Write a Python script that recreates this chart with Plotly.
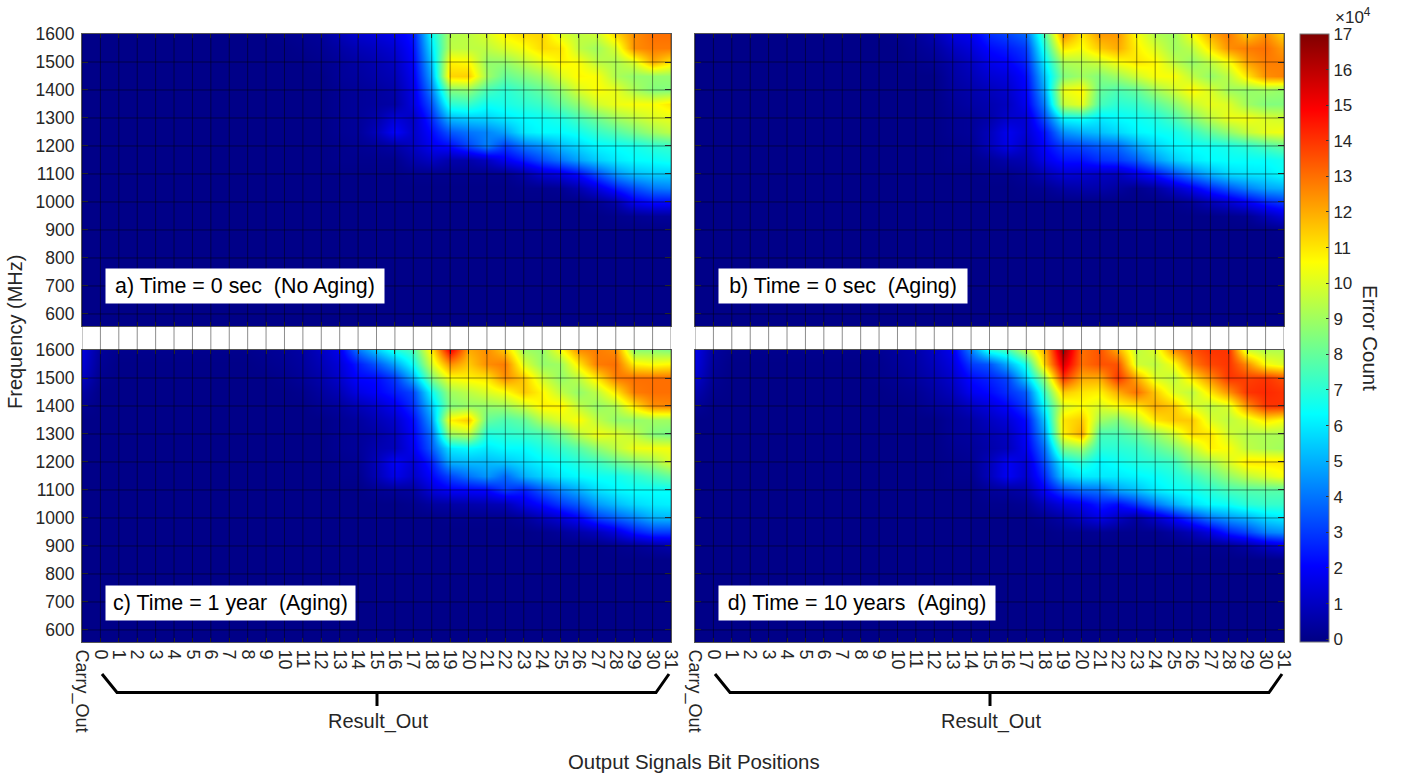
import plotly.graph_objects as go

W, H = 1405, 777
L, R, T, B = 82, 1284, 34, 642
CATEGORIES = ["Carry_Out"] + [str(i) for i in range(32)]
FREQ_TICKS = [1600, 1500, 1400, 1300, 1200, 1100, 1000, 900, 800, 700, 600]
CB_TICKS = list(range(18))
RESOLVED_ROWS = [1600, 1550, 1500, 1450, 1400, 1350, 1300, 1250, 1200, 1150, 1100, 1050, 1000, 950, 900]
EMPTY_ROWS = [850, 800, 750, 700, 650, 600, 550]

# Error count / 1e4. HEAD = Carry_Out and bits 0-12 (top rows), TAIL = bits 13-31
A_HEAD = [
    [0, 0, 0, 0, 0, 0, 0, 0, 0, 0, 0, .1, .2, .3],
    [0, 0, 0, 0, 0, 0, 0, 0, 0, 0, 0, 0, .1, .2],
    [0, 0, 0, 0, 0, 0, 0, 0, 0, 0, 0, 0, 0, .1],
]
A_TAIL = [
    [.8, 1.2, 1.4, 1.7, 2.4, 6.5, 9.3, 9.5, 10, 10.8, 11.2, 11.3, 10, 9.5, 9.8, 11.3, 12.5, 13, 13],
    [.5, .8, 1, 1.3, 2.2, 6, 9.5, 9.5, 9.5, 10, 10.5, 11.2, 11, 9.5, 9, 10, 12.5, 12.8, 12.8],
    [.3, .5, .7, 1, 2, 5.5, 10.8, 10.6, 8.8, 8.8, 9.5, 10.2, 10.8, 10.5, 9.5, 9.2, 10, 12, 11],
    [.3, .4, .6, .8, 1.8, 5, 11.3, 11.4, 9, 8, 8.5, 9, 10, 10.7, 10.5, 9.2, 8.8, 8.8, 8.8],
    [.2, .3, .4, .6, 1.6, 4.3, 8.5, 8.7, 7.5, 7, 7.5, 8, 8.8, 10, 10.6, 10.2, 9.2, 8.5, 8.5],
    [.2, .3, .4, .5, 1.5, 3.5, 7, 7.2, 6.5, 6.7, 7, 7.3, 8, 8.8, 9.8, 10.3, 10.5, 10.5, 11],
    [.2, .3, .6, 1.4, 1, 2.8, 5.2, 5.5, 5.6, 6, 6.3, 6.5, 6.8, 7.5, 8.2, 9, 9.5, 10, 10.2],
    [.2, .3, .9, 2, 1.1, 2.2, 3.5, 4, 4.3, 4.8, 6, 6.3, 6.3, 6.6, 7.2, 7.7, 8.3, 9, 9.5],
    [.1, .2, .3, .5, 1, 1.8, 2.2, 3.2, 4.2, 3, 4, 4.5, 5.2, 5.7, 6.2, 6.4, 6.6, 7, 7.2],
    [.1, .1, .1, .1, .6, 1, .6, .6, 1, 1.8, 2.5, 3.3, 4, 4.8, 5.5, 6, 6.3, 6.4, 6.6],
    [0, 0, 0, 0, .1, .1, .1, .1, .1, .1, .5, 1.2, 1.5, 2.2, 3.3, 4.5, 5.2, 5.5, 5.5],
    [0, 0, 0, 0, 0, 0, 0, 0, 0, 0, .1, .1, .2, .7, 1.5, 2.5, 3.3, 4, 4.2],
    [0, 0, 0, 0, 0, 0, 0, 0, 0, 0, 0, 0, 0, 0, .2, .6, 1.8, 2.2, 2.2],
    [0, 0, 0, 0, 0, 0, 0, 0, 0, 0, 0, 0, 0, 0, 0, .1, .2, .3, .3],
    [0, 0, 0, 0, 0, 0, 0, 0, 0, 0, 0, 0, 0, 0, 0, 0, 0, 0, 0],
]
B_HEAD = [
    [0, 0, 0, 0, 0, 0, 0, 0, 0, 0, 0, .1, .3, .7],
    [0, 0, 0, 0, 0, 0, 0, 0, 0, 0, 0, 0, .2, .4],
    [0, 0, 0, 0, 0, 0, 0, 0, 0, 0, 0, 0, .1, .2],
]
B_TAIL = [
    [1.5, 1.8, 2.8, 3.2, 3.8, 7.8, 12.5, 11, 12.3, 12.3, 10.5, 9.3, 9, 10.5, 12, 12.8, 11.5, 12.5, 11.2],
    [1, 1.4, 2.2, 2.5, 3, 7, 11, 10.5, 11.5, 12, 10.8, 10, 9, 9.5, 11, 12.5, 12.8, 13, 12.2],
    [.6, 1, 1.7, 2, 2.6, 6.2, 9.2, 9.4, 9.8, 10.5, 11, 10.7, 9.5, 8.8, 9.5, 10.5, 12.2, 12.8, 12.7],
    [.5, .8, 1.3, 1.5, 2.2, 5.5, 8.5, 9, 8.5, 9, 9.8, 10.5, 10.5, 9.5, 8.8, 9.5, 11, 12.5, 12.7],
    [.4, .6, .9, 1.2, 2, 5, 10.3, 10.7, 8, 7.6, 8, 9, 9.8, 10.7, 10, 9, 8.8, 9, 8.8],
    [.3, .5, .7, 1, 1.8, 4.3, 9.6, 10.2, 7.5, 7, 7.2, 7.8, 8.6, 9.6, 10.2, 10, 9, 8.5, 8.5],
    [.2, .3, .6, 1.2, 1.3, 3.4, 6.3, 6.5, 6, 6.3, 6.5, 6.8, 7.5, 8.5, 9.5, 10.3, 10.4, 10, 9.8],
    [.2, .3, .9, 1.8, 1.3, 2.4, 4.5, 5, 5.3, 5.7, 6.2, 6.4, 6.6, 7.2, 8, 8.8, 9.6, 10.2, 10.4],
    [.1, .2, .9, 1.7, 1, 2.1, 3, 3.2, 3.6, 3.8, 4.8, 5.6, 6.2, 6.4, 6.5, 6.7, 7, 7.5, 8],
    [.1, .1, .3, .6, .7, 1.7, 2.3, 2.3, 2.8, 3, 3.6, 4.6, 5.5, 6, 6.3, 6.4, 6.4, 6.4, 6.6],
    [0, 0, .1, .1, .3, .8, 1.3, 1.2, 1, .9, 1.6, 2.3, 3.3, 4.2, 5, 5.7, 5.9, 6, 6.4],
    [0, 0, 0, 0, .1, .2, .5, .6, .6, .4, .1, .4, 1.1, 1.8, 2.7, 3.5, 4.2, 4.8, 5],
    [0, 0, 0, 0, 0, 0, 0, 0, 0, 0, 0, 0, .1, .3, .8, 1.3, 1.9, 2.6, 3],
    [0, 0, 0, 0, 0, 0, 0, 0, 0, 0, 0, 0, 0, 0, 0, .1, .2, .8, 1.4],
    [0, 0, 0, 0, 0, 0, 0, 0, 0, 0, 0, 0, 0, 0, 0, 0, 0, 0, .1],
]
C_HEAD = [
    [1.5, .3, .1, .1, .1, .1, .1, .1, .1, .1, .2, .3, .5, 1],
    [1.3, .2, 0, 0, 0, 0, 0, 0, 0, 0, .1, .2, .4, .8],
    [1, .1, 0, 0, 0, 0, 0, 0, 0, 0, 0, .1, .3, .6],
    [.5, 0, 0, 0, 0, 0, 0, 0, 0, 0, 0, 0, .1, .4],
    [.2, 0, 0, 0, 0, 0, 0, 0, 0, 0, 0, 0, 0, .2],
]
C_TAIL = [
    [1.8, 4, 5.5, 6.8, 7.5, 11, 15, 12, 12.5, 11.5, 9, 8.8, 10.5, 12.5, 12.8, 12.5, 8.7, 8.7, 8.5],
    [1.4, 2.5, 3.5, 4.8, 6.5, 10, 12.5, 11.5, 12.5, 12.8, 10, 8.8, 9, 11, 12.8, 13, 10.8, 10.5, 10.7],
    [1.2, 2.1, 2.2, 3, 5, 8.5, 10.5, 10.8, 11, 12.5, 11.5, 9.8, 8.8, 9.5, 11, 12.8, 13, 13, 13],
    [.8, 1.6, 2, 2.5, 3.2, 6.5, 9, 9.5, 10, 10.5, 11.5, 10.7, 9.5, 8.8, 9.5, 11, 12.8, 13, 13],
    [.4, .8, 1.2, 1.8, 2.8, 5.5, 8.5, 8.8, 8.8, 9, 9.8, 10.8, 10.8, 9.5, 8.8, 9.3, 11, 12.5, 12.6],
    [.2, .4, .8, 1.2, 2.2, 4.8, 10.8, 11.5, 8, 7.6, 8, 9.3, 10, 10.6, 9.5, 8.8, 8.8, 9, 9],
    [.2, .3, .5, .9, 2, 4, 9, 9.5, 6.8, 7, 7.2, 7.5, 8.3, 9.5, 10.4, 10, 9.5, 8.5, 8.3],
    [.2, .3, .7, .9, 1.8, 3.6, 6, 6.3, 6, 6.3, 6.3, 6.8, 7.2, 7.8, 8.7, 9.5, 10.3, 10.4, 10.4],
    [.1, .2, .9, 2, 1.3, 2.6, 5, 5.2, 5.2, 5.4, 5.8, 6.2, 6.5, 6.9, 7.3, 8, 8.5, 9, 10],
    [.1, .1, .8, 1.7, 1.1, 2.1, 3.2, 4, 4.6, 3.8, 5, 5.6, 6, 6.3, 6.5, 6.6, 7, 7.5, 8],
    [0, 0, .2, .3, .4, 1.4, 1.9, 2, 2.1, 3, 2.5, 3.5, 4.3, 5, 5.8, 6.2, 6.4, 6.4, 6.4],
    [0, 0, 0, 0, .1, .4, .5, .6, .7, .8, 1.6, 2.2, 3, 3.6, 4.6, 5.2, 5.7, 6, 6.1],
    [0, 0, 0, 0, 0, 0, .1, .1, .1, .1, .3, .8, 1.3, 2, 3, 3.6, 4.2, 5, 5.1],
    [0, 0, 0, 0, 0, 0, 0, 0, 0, 0, 0, .1, .3, .6, .9, 1.5, 2.4, 3, 3],
    [0, 0, 0, 0, 0, 0, 0, 0, 0, 0, 0, 0, 0, 0, 0, .1, .2, .4, .6],
]
D_HEAD = [
    [1.7, .4, .1, .1, .1, .1, .1, .1, .1, .1, .2, .4, .6, 1.1],
    [1.5, .3, 0, 0, 0, 0, 0, 0, 0, 0, .1, .3, .5, .9],
    [1.2, .2, 0, 0, 0, 0, 0, 0, 0, 0, .1, .2, .4, .7],
    [.7, .1, 0, 0, 0, 0, 0, 0, 0, 0, 0, .1, .2, .5],
    [.3, 0, 0, 0, 0, 0, 0, 0, 0, 0, 0, 0, .1, .3],
]
D_TAIL = [
    [1.8, 4.2, 6.8, 7.5, 9.5, 12, 16.5, 13, 13.5, 12, 9.5, 10, 12.5, 13.5, 14, 14, 9.8, 9.3, 9.3],
    [1.5, 3, 3.5, 5, 6.8, 11.5, 15.5, 13, 13.5, 13.5, 9.8, 9.5, 10.5, 12.8, 13.7, 14, 12.5, 10.5, 10],
    [1.2, 2.2, 2.6, 3.2, 5.5, 9, 14, 12, 12, 14, 12, 10, 9.5, 11, 12.5, 14, 13.8, 14, 13.5],
    [.9, 1.8, 2.2, 2.8, 3.6, 7.5, 11.5, 11, 10.8, 12, 13, 11.5, 10, 9.5, 11, 12.5, 14, 14.2, 14],
    [.5, 1, 1.5, 2.1, 3, 6.5, 10, 10.5, 10, 10.5, 11, 12, 11.5, 10, 9.5, 10, 12.5, 14, 14],
    [.3, .5, 1, 1.4, 2.2, 5.5, 11, 11.5, 9, 8.5, 9.5, 11, 11.5, 11.5, 10, 9.5, 10, 11, 10.5],
    [.3, .4, .7, 1, 2, 4.8, 10.8, 12, 7.5, 7.5, 8, 8.8, 9.8, 11.2, 11, 9.8, 9.3, 9.2, 9.2],
    [.2, .3, .6, .9, 1.8, 4, 8.5, 9, 7, 7, 7.2, 7.8, 8.5, 9.5, 10.8, 10.5, 9.5, 9.2, 9],
    [.1, .2, .9, 1.9, 1.3, 3.4, 6.3, 7, 6.2, 6.5, 6.8, 7, 7.3, 8.5, 9, 10, 11, 11, 11],
    [.1, .1, .9, 1.9, 1.2, 2.8, 5.5, 6, 6, 6, 6.2, 6.4, 6.8, 7.3, 8, 8.8, 9.5, 10, 10.5],
    [0, 0, .3, .4, .6, 2, 3.2, 3.8, 4, 4.8, 5.3, 6, 6.4, 6.6, 7, 7.5, 7.7, 7.8, 7.8],
    [0, 0, .1, .1, .2, .9, 1.5, 1.8, 2.5, 2.2, 3, 4, 5, 5.8, 6.3, 6.5, 7, 7.2, 7.2],
    [0, 0, 0, 0, 0, .2, .5, 1, 1.6, 1, .4, 1.1, 2, 3, 4, 4.6, 5, 5.7, 6],
    [0, 0, 0, 0, 0, 0, .1, .1, .2, .1, .1, .1, .4, .8, 1.5, 2.6, 3.2, 4.2, 4.5],
    [0, 0, 0, 0, 0, 0, 0, 0, 0, 0, 0, 0, 0, .1, .1, .2, .5, 1, 1.4],
]
LABELS = ["a) Time = 0 sec\u00a0\u00a0(No Aging)", "b) Time = 0 sec\u00a0\u00a0(Aging)",
          "c) Time = 1 year\u00a0\u00a0(Aging)", "d) Time = 10 years\u00a0\u00a0(Aging)"]
LABEL_BOX = [(105, 383, 285.5), (718, 966, 286), (105, 354, 603), (718, 994, 603)]
PANEL_PX = [(82, 671, 34, 326), (695, 1284, 34, 326), (82, 671, 350, 642), (695, 1284, 350, 642)]
JET = [[0, "rgb(0,0,131)"], [0.125, "rgb(0,0,255)"], [0.375, "rgb(0,255,255)"],
       [0.625, "rgb(255,255,0)"], [0.875, "rgb(255,0,0)"], [1, "rgb(128,0,0)"]]
TEXT = "#262626"
FONT = "Liberation Sans"


def px(x):
    return (x - L) / (R - L)


def py(y):
    return 1 - (y - T) / (B - T)


def grid(head, tail):
    rows = []
    for i, t in enumerate(tail):
        h = head[i] if i < len(head) else [0] * 14
        assert len(t) == 19 and len(h) == 14, (i, len(t), len(h))
        rows.append(h + t)
    rows += [[0] * 33 for _ in EMPTY_ROWS]
    return rows


fig = go.Figure()
data = [grid(A_HEAD, A_TAIL), grid(B_HEAD, B_TAIL), grid(C_HEAD, C_TAIL), grid(D_HEAD, D_TAIL)]
ys = RESOLVED_ROWS + EMPTY_ROWS
xs = list(range(33))
shapes = []
for k, (z, (l, r, t, b)) in enumerate(zip(data, PANEL_PX)):
    n = "" if k == 0 else str(k + 1)
    fig.add_trace(go.Heatmap(x=xs, y=ys, z=z, coloraxis="coloraxis", zsmooth="best",
                             xaxis="x" + n, yaxis="y" + n, showscale=k == 0))
    bottom_row = k >= 2
    left_col = k in (0, 2)
    fig.update_layout({
        "xaxis" + n: dict(domain=[px(l), px(r)], range=[0, 32], anchor="y" + n,
                          tickmode="array", tickvals=xs, ticktext=CATEGORIES,
                          tickangle=90, showticklabels=bottom_row, ticks="inside", ticklen=4,
                          tickcolor="#333333", tickwidth=1, mirror="ticks", showline=True,
                          linecolor="#555555", linewidth=1, showgrid=False, zeroline=False,
                          ticklabelstandoff=3,
                          layer="above traces", tickfont=dict(size=18, color=TEXT, family=FONT)),
        "yaxis" + n: dict(domain=[py(b), py(t)], range=[557, 1600], anchor="x" + n,
                          tickmode="array", tickvals=FREQ_TICKS,
                          showticklabels=left_col, ticks="inside", ticklen=6,
                          tickcolor="#333333", tickwidth=1, mirror="ticks", showline=True,
                          linecolor="#555555", linewidth=1, showgrid=False, zeroline=False,
                          ticklabelstandoff=3,
                          layer="above traces", tickfont=dict(size=17.5, color=TEXT, family=FONT)),
    })
    for v in FREQ_TICKS[1:]:
        shapes.append(dict(type="line", xref="paper", yref="y" + n, x0=px(l), x1=px(r), y0=v, y1=v,
                           line=dict(color="rgba(0,0,0,0.45)", width=1), layer="above"))
    if k < 2:
        for v in xs:
            shapes.append(dict(type="line", xref="x" + n, yref="paper", x0=v, x1=v,
                               y0=py(642), y1=py(34),
                               line=dict(color="rgba(0,0,0,0.45)", width=1), layer="above"))

# brackets under the bit labels
for dx in (0, 613):
    shapes.append(dict(type="path", xref="paper", yref="paper",
                       path=f"M {px(102+dx)} {py(674)} L {px(117+dx)} {py(692.5)} L {px(656+dx)} {py(692.5)} L {px(669+dx)} {py(674)}",
                       line=dict(color="black", width=3)))
    shapes.append(dict(type="line", xref="paper", yref="paper", x0=px(377 + dx), x1=px(377 + dx),
                       y0=py(692.5), y1=py(706), line=dict(color="black", width=3)))

annotations = []
for text, (l, r, cy) in zip(LABELS, LABEL_BOX):
    annotations.append(dict(text=text, xref="paper", yref="paper", x=px(l), y=py(cy), xanchor="left",
                            yanchor="middle", showarrow=False, bgcolor="white", width=r - l - 2, height=32,
                            align="center", font=dict(size=21.4, color="black", family=FONT)))
for cx in (378, 991):
    annotations.append(dict(text="Result_Out", xref="paper", yref="paper", x=px(cx), y=py(721), xanchor="center",
                            yanchor="middle", showarrow=False, font=dict(size=20, color=TEXT, family=FONT)))
annotations += [
    dict(text="Output Signals Bit Positions", xref="paper", yref="paper", x=px(694), y=py(762), xanchor="center",
         yanchor="middle", showarrow=False, font=dict(size=20.4, color=TEXT, family=FONT)),
    dict(text="Frequency (MHz)", xref="paper", yref="paper", x=px(15), y=py(332), xanchor="center",
         yanchor="middle", showarrow=False, textangle=-90, font=dict(size=20, color=TEXT, family=FONT)),
    dict(text="Error Count", xref="paper", yref="paper", x=px(1371), y=py(338), xanchor="center",
         yanchor="middle", showarrow=False, textangle=90, font=dict(size=20.5, color=TEXT, family=FONT)),
    dict(text="\u00d710<sup>4</sup>", xref="paper", yref="paper", x=px(1333), y=py(16), xanchor="left",
         yanchor="middle", showarrow=False, font=dict(size=17, color=TEXT, family=FONT)),
]

fig.update_layout(
    width=W, height=H, margin=dict(l=L, r=W - R, t=T, b=H - B), paper_bgcolor="white", plot_bgcolor="white",
    font=dict(family=FONT, color=TEXT), shapes=shapes, annotations=annotations,
    coloraxis=dict(cmin=-0.08, cmax=17, colorscale=JET,
                   colorbar=dict(x=px(1300), xanchor="left", y=1, yanchor="top", lenmode="fraction",
                                 len=1, thicknessmode="pixels", thickness=29, xpad=0, ypad=0,
                                 tickmode="array", tickvals=CB_TICKS, ticks="inside", ticklen=3,
                                 tickcolor="#333333", outlinecolor="#777777", outlinewidth=1,
                                 tickfont=dict(size=17, color=TEXT, family=FONT))),
)
fig.write_html("out.html", post_script="document.body.style.margin='0';", config=dict(displayModeBar=False))
